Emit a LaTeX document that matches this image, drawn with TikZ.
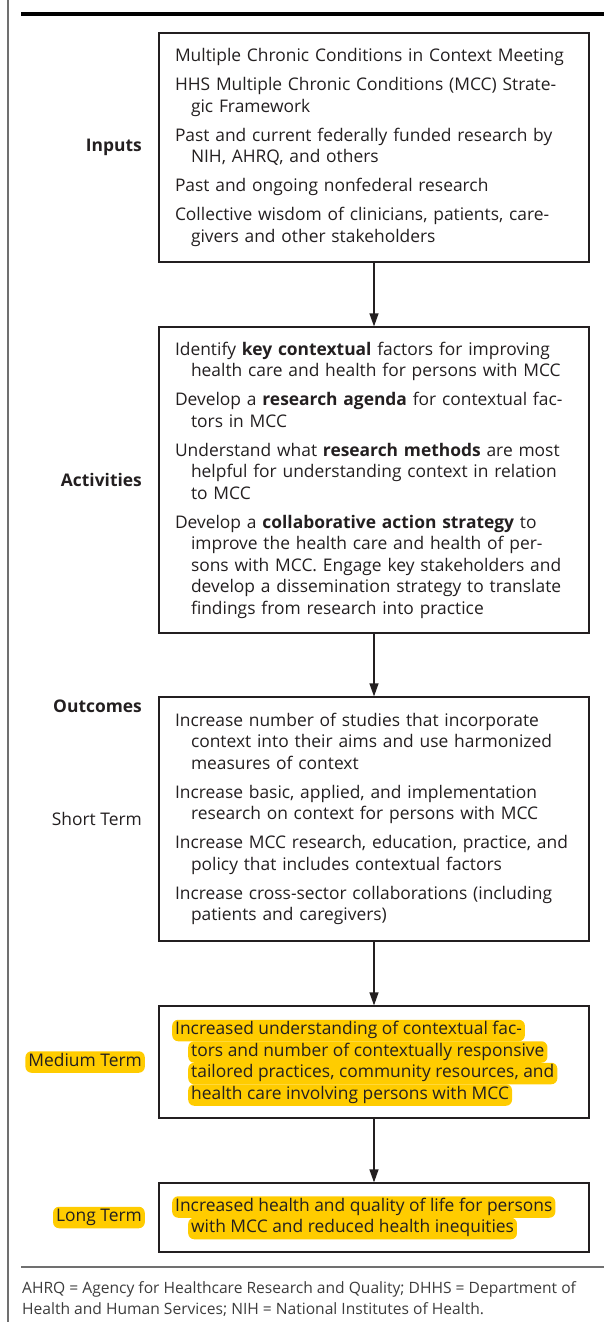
\documentclass[tikz,border=0pt]{standalone}
\usepackage{fontspec}
\setmainfont{Open Sans}
\usepackage{xcolor}
\usepackage{tikz}
\usetikzlibrary{arrows.meta}

\definecolor{ink}{HTML}{231F20}
\definecolor{hlyellow}{HTML}{FFCC00}
\definecolor{notegray}{HTML}{3C3C3C}
\definecolor{rulegray}{HTML}{707070}

\newcommand{\cont}{\hspace*{16pt}}
\newcommand{\itemgap}{\\[7.5pt]}
\newcommand{\boxfont}{\fontsize{17.4}{21.5}\selectfont}

\tikzset{
	stagebox/.style={draw=ink, line width=1.2pt, text=ink, font=\boxfont,
		text width=398pt, inner xsep=16pt, inner ysep=0pt, align=left},
	rowlabel/.style={anchor=east, text=ink, font=\boxfont, inner sep=0pt},
	hiline/.style={anchor=west, fill=hlyellow, rounded corners=6pt, text=ink,
		font=\boxfont, inner xsep=3pt, inner ysep=2.5pt, text height=12.5pt, text depth=4pt},
	flow/.style={-{Triangle[length=13pt,width=9pt]}, line width=1.2pt, ink}
}

\begin{document}
\begin{tikzpicture}[x=1pt,y=-1pt]
	\useasboundingbox (0,0) rectangle (604,1322);
	%
	\draw[rulegray, line width=1.2pt] (8,0) -- (8,1322);
	\draw[black, line width=4.5pt] (21,14) -- (604,14);
	\draw[rulegray, line width=1.5pt] (21,1267) -- (604,1267);
	%
	\node[stagebox, minimum height=229pt] (inp) at (374,147.5) {%
		Multiple Chronic Conditions in Context Meeting\itemgap
		HHS Multiple Chronic Conditions (MCC) Strate-\\
		\cont gic Framework\itemgap
		Past and current federally funded research by\\
		\cont NIH, AHRQ, and others\itemgap
		Past and ongoing nonfederal research\itemgap
		Collective wisdom of clinicians, patients, care-\\
		\cont givers and other stakeholders};
	\node[stagebox, minimum height=306pt] (act) at (374,480) {%
		Identify \textbf{key contextual} factors for improving\\
		\cont health care and health for persons with MCC\itemgap
		Develop a \textbf{research agenda} for contextual fac-\\
		\cont tors in MCC\itemgap
		Understand what \textbf{research methods} are most\\
		\cont helpful for understanding context in relation\\
		\cont to MCC\itemgap
		Develop a \textbf{collaborative action strategy} to\\
		\cont improve the health care and health of per-\\
		\cont sons with MCC. Engage key stakeholders and\\
		\cont develop a dissemination strategy to translate\\
		\cont findings from research into practice};
	\node[stagebox, minimum height=244pt] (sho) at (374,819) {%
		Increase number of studies that incorporate\\
		\cont context into their aims and use harmonized\\
		\cont measures of context\itemgap
		Increase basic, applied, and implementation\\
		\cont research on context for persons with MCC\itemgap
		Increase MCC research, education, practice, and\\
		\cont policy that includes contextual factors\itemgap
		Increase cross-sector collaborations (including\\
		\cont patients and caregivers)};
	\node[stagebox, minimum height=112pt] (med) at (374,1062) {};
	\node[stagebox, minimum height=69pt] (lng) at (374,1217.5) {};
	%
	\node[hiline] (m1) at (172,1030.5) {Increased understanding of contextual fac-};
	\node[hiline] (m2) at (188,1052) {tors and number of contextually responsive};
	\node[hiline] (m3) at (188,1073.5) {tailored practices, community resources, and};
	\node[hiline] (m4) at (188,1095) {health care involving persons with MCC};
	\node[hiline] (l1) at (172,1207) {Increased health and quality of life for persons};
	\node[hiline] (l2) at (188,1228.5) {with MCC and reduced health inequities};
	%
	\node[rowlabel, font=\boxfont\bfseries] (inlab) at (142,147.5) {Inputs};
	\node[rowlabel, font=\boxfont\bfseries] (aclab) at (142,480) {Activities};
	\node[rowlabel, font=\boxfont\bfseries] (oulab) at (142,706) {Outcomes};
	\node[rowlabel] (shlab) at (142,819) {Short Term};
	\node[hiline, anchor=east] (melab) at (145,1062) {Medium Term};
	\node[hiline, anchor=east] (lolab) at (145,1217.5) {Long Term};
	%
	\path[flow]
		(inp) edge (act)
		(act) edge (sho)
		(sho) edge (med)
		(med) edge (lng);
	%
	\node[anchor=north west, inner sep=0pt, text=notegray, align=left,
		font=\fontsize{15.6}{21}\selectfont] (foot) at (22,1281) {%
		AHRQ = Agency for Healthcare Research and Quality; DHHS = Department of\\
		Health and Human Services; NIH = National Institutes of Health.};
\end{tikzpicture}
\end{document}
